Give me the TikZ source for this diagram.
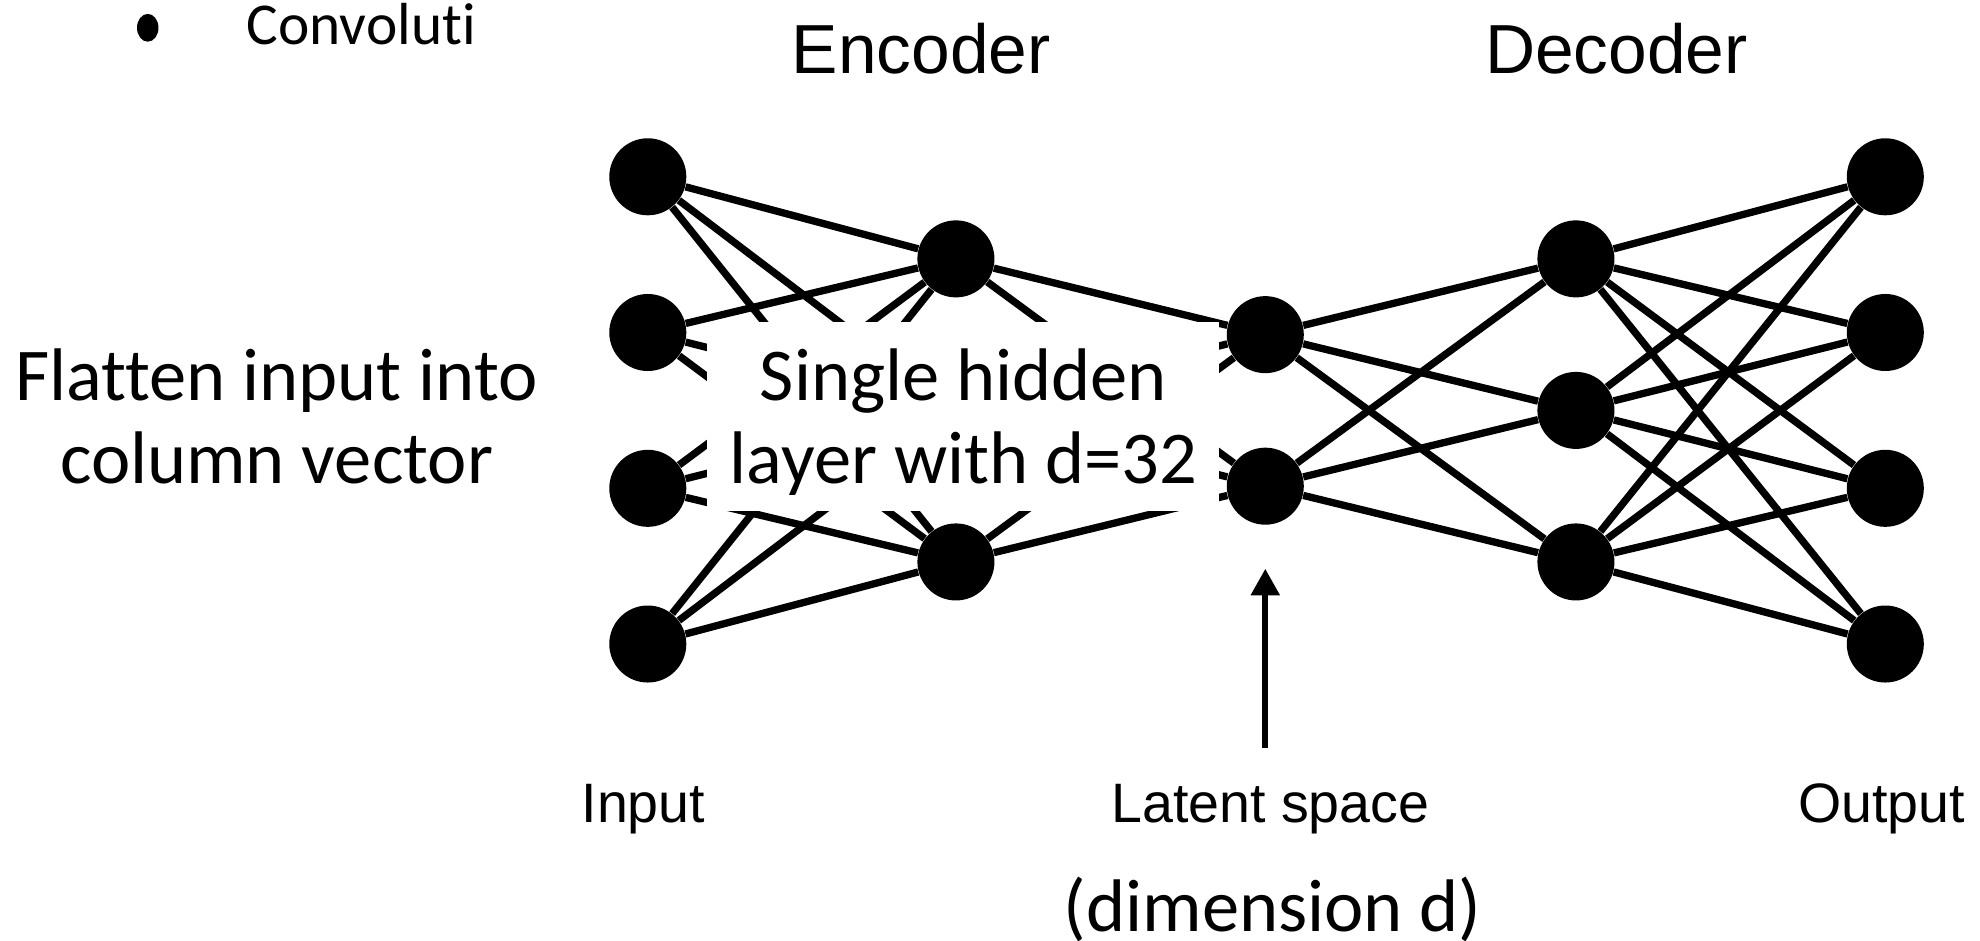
\documentclass[tikz,border=0pt]{standalone}
\usepackage{fontspec}
\setmainfont{Carlito}[Ligatures=NoCommon]
\newfontfamily\helv{Liberation Sans}
\usetikzlibrary{arrows.meta,shapes.geometric}
\begin{document}
\begin{tikzpicture}[x=0.5pt,y=-0.5pt,
  neuron/.style={circle,fill=black,minimum size=30.5pt,inner sep=0pt},
  link/.style={line width=2.9pt},
  headline/.style={anchor=base,inner sep=0pt,font=\helv\fontsize{27.5}{30}\selectfont},
  footline/.style={anchor=base,inner sep=0pt,font=\helv\fontsize{22}{26}\selectfont},
  slidetext/.style={inner sep=0pt,align=center,font=\fontsize{29.5}{33}\selectfont},
  pointer/.style={line width=2.3pt,-{Triangle[width=11pt,length=10.5pt]}}
]
\fill[white] (0,0) rectangle (1568,745);
\useasboundingbox (0,0) rectangle (1568,745);

% bullet line at the top
\node[ellipse,fill=black,minimum width=8.5pt,minimum height=11pt,inner sep=0pt] (bullet) at (117,22) {};
\node[anchor=base west,inner sep=0pt,font=\fontsize{23.5}{28}\selectfont] (conv) at (195,35) {Convoluti};

% layer titles
\node[headline] (enc) at (729.5,58) {Encoder};
\node[headline] (dec) at (1280,58) {Decoder};

% neurons
\foreach \i/\y in {1/140,2/263.3,3/386.7,4/510} {
  \node[neuron] (in\i) at (513,\y) {};
  \node[neuron] (out\i) at (1493,\y) {};
}
\foreach \i/\y in {1/205,2/325,3/445} {
  \node[neuron] (e\i) at (757,\y) {};
  \node[neuron] (d\i) at (1248,\y) {};
}
\foreach \i/\y in {1/265,2/385}
  \node[neuron] (lat\i) at (1002,\y) {};

% fully connected layers
\foreach \a in {1,...,4}
  \foreach \b in {1,2,3} {
    \draw[link] (in\a) -- (e\b);
    \draw[link] (d\b) -- (out\a);
  }
\foreach \a in {1,2,3}
  \foreach \b in {1,2} {
    \draw[link] (e\a) -- (lat\b);
    \draw[link] (lat\b) -- (d\a);
  }

% overlay box with its caption
\node[fill=white,minimum width=202.5pt,minimum height=75pt,inner sep=0pt] (hidden) at (762.5,330) {};
\node[slidetext,anchor=base] (hiddentext) at (763,383) {Single hidden\\layer with d=32};

% side note
\node[slidetext,anchor=base] (flat) at (219,383) {Flatten input into\\column vector};

% bottom labels
\node[footline] (inlbl) at (509.5,651) {Input};
\node[footline] (latlbl) at (1006,651) {Latent space};
\node[footline] (outlbl) at (1490,651) {Output};
\node[slidetext,anchor=base] (dimlbl) at (1008,738) {(dimension d)};

% pointer to the latent layer
\coordinate (foot) at (1002,592);
\draw[pointer,shorten >=17.25pt] (foot) -- (lat2.south);
\end{tikzpicture}
\end{document}
